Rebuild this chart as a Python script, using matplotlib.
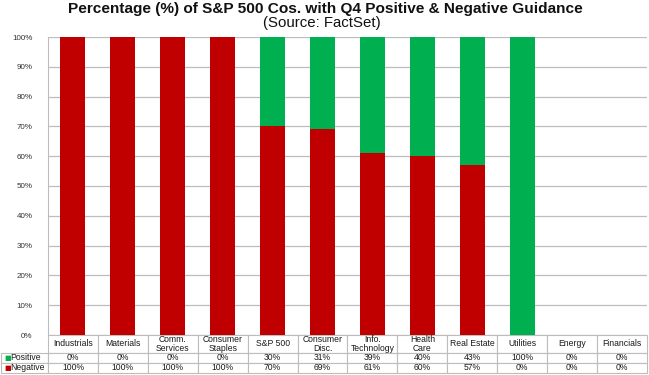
import matplotlib
matplotlib.use('Agg')
import matplotlib.pyplot as plt
import numpy as np

plt.rcParams['font.family'] = ['Liberation Sans', 'DejaVu Sans']

# data
categories = ['Industrials', 'Materials', 'Comm.\nServices', 'Consumer\nStaples', 'S&P 500',
              'Consumer\nDisc.', 'Info.\nTechnology', 'Health\nCare', 'Real Estate',
              'Utilities', 'Energy', 'Financials']
positive = [0, 0, 0, 0, 30, 31, 39, 40, 43, 100, 0, 0]
negative = [100, 100, 100, 100, 70, 69, 61, 60, 57, 0, 0, 0]

RED = '#C00000'
GREEN = '#00B050'
GRID = '#BDBDBD'

W, H = 649, 375
AX_L, AX_R, AX_T, AX_B = 48, 647, 37, 335
aw, ah = AX_R - AX_L, AX_B - AX_T

fig = plt.figure(figsize=(W / 100, H / 100), dpi=100)
ax = fig.add_axes([AX_L / W, 1 - AX_B / H, aw / W, ah / H])

x = np.arange(len(categories))
ax.bar(x, negative, width=0.5, color=RED, zorder=3)
ax.bar(x, positive, width=0.5, bottom=negative, color=GREEN, zorder=3)

ax.set_xlim(-0.5, len(categories) - 0.5)
ax.set_ylim(0, 100)
ax.set_yticks(np.arange(0, 101, 10))
ax.set_yticklabels([f'{v}%' for v in range(0, 101, 10)])
ax.tick_params(axis='y', labelsize=5.8, length=0, pad=11, colors='#333333')
ax.set_xticks([])
ax.grid(axis='y', color=GRID, linewidth=0.9, zorder=0)
for s in ['top', 'right', 'bottom']:
    ax.spines[s].set_visible(False)
ax.spines['left'].set_color(GRID)

# data table underneath
cell_text = [[''] + categories,
             ['Positive'] + [f'{v}%' for v in positive],
             ['Negative'] + [f'{v}%' for v in negative]]
row_h = [18, 10, 10]
lab_w = AX_L - 1
col_w = [lab_w] + [aw / 12] * 12
tbl_h = sum(row_h)
tbl = ax.table(cellText=cell_text, cellLoc='center',
               bbox=[-lab_w / aw, -tbl_h / ah, (aw + lab_w) / aw, tbl_h / ah])
tbl.auto_set_font_size(False)
tbl.set_fontsize(6.2)
for (r, c), cell in tbl.get_celld().items():
    cell.set_height(row_h[r])
    cell.set_width(col_w[c])
    cell.set_edgecolor(GRID)
    cell.set_linewidth(0.8)
    txt = cell.get_text()
    txt.set_color('#1a1a1a')
    txt.set_linespacing(0.88)
    if c == 0:
        cell.PAD = 9.5 / lab_w
        cell._loc = 'left'
        txt.set_ha('left')
    if r == 0 and c == 0:
        cell.visible_edges = ''

# legend keys in the row labels
ax.text(-(lab_w - 3.5) / aw, -23 / ah, '■', color=GREEN, fontsize=5, ha='left', va='center',
        transform=ax.transAxes, family=['DejaVu Sans'])
ax.text(-(lab_w - 3.5) / aw, -33 / ah, '■', color=RED, fontsize=5, ha='left', va='center',
        transform=ax.transAxes, family=['DejaVu Sans'])

fig.text(325 / W, 1 - 9 / H, 'Percentage (%) of S&P 500 Cos. with Q4 Positive & Negative Guidance',
         ha='center', va='center', fontsize=11.1, fontweight='bold', color='#111111')
fig.text(322 / W, 1 - 22.5 / H, '(Source: FactSet)', ha='center', va='center', fontsize=10.8,
         color='#111111')

fig.savefig('out.png', dpi=100)
